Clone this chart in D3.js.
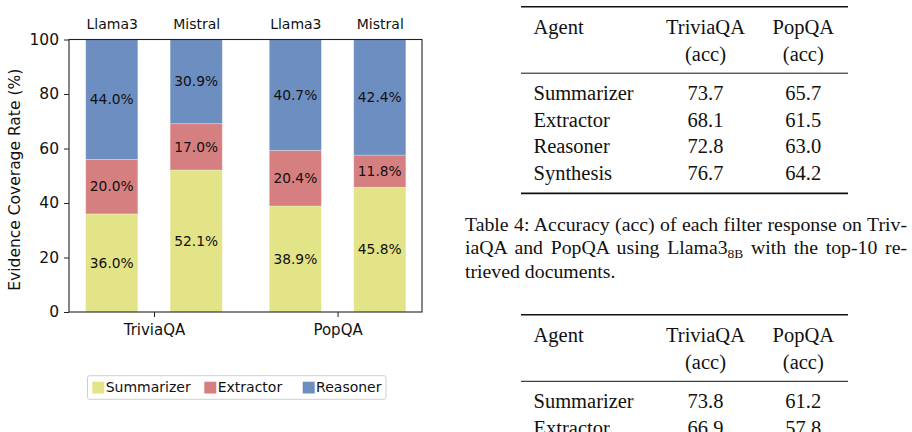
<!DOCTYPE html>
<html>
<head>
<meta charset="utf-8">
<script src="https://cdn.jsdelivr.net/npm/d3@7"></script>
<style>
  body { margin: 0; background: #fff; }
  svg { display: block; }
  .sans { font-family: "DejaVu Sans", sans-serif; }
  .serif { font-family: "Liberation Serif", "Times New Roman", serif; }
</style>
</head>
<body>
<svg id="fig" width="912" height="432"></svg>
<script>
// chart data
const groups = ["TriviaQA", "PopQA"];
const models = ["Llama3", "Mistral"];
const agents = ["Summarizer", "Extractor", "Reasoner"];
// bar order: TriviaQA-Llama3, TriviaQA-Mistral, PopQA-Llama3, PopQA-Mistral
const summarizer = [36.0, 52.1, 38.9, 45.8];
const extractor = [20.0, 17.0, 20.4, 11.8];
const reasoner = [44.0, 30.9, 40.7, 42.4];
const yTicks = [0, 20, 40, 60, 80, 100];

// table data
const colHeads = ["Agent", "TriviaQA", "PopQA"];
const colSub = ["", "(acc)", "(acc)"];
const t4Agents = ["Summarizer", "Extractor", "Reasoner", "Synthesis"];
const t4Trivia = [73.7, 68.1, 72.8, 76.7];
const t4Pop = [65.7, 61.5, 63.0, 64.2];
const t5Agents = ["Summarizer", "Extractor"];
const t5Trivia = [73.8, 66.9];
const t5Pop = [61.2, 57.8];
const captionLines = [
  "Table 4: Accuracy (acc) of each filter response on Triv-",
  ["iaQA and PopQA using Llama3", "8B", " with the top-10 re-"],
  "trieved documents."
];

const colors = {Summarizer: "#e3e388", Extractor: "#d67f80", Reasoner: "#6d8ec1"};

const svg = d3.select("#fig");

// ---------- bar chart ----------
const L = 69, R = 422, T = 39.5, B = 312;
const x = d3.scaleLinear().domain([-0.463, 1.46]).range([L, R]);
const y = d3.scaleLinear().domain([0, 100]).range([B, T]);
const offset = [-0.23, 0.23];
const barW = x(0.284) - x(0);

const rows = [];
groups.forEach((g, gi) => models.forEach((m, mi) => {
  const i = gi * models.length + mi;
  rows.push({group: g, model: m, pos: gi + offset[mi],
    Summarizer: summarizer[i], Extractor: extractor[i], Reasoner: reasoner[i]});
}));

const series = d3.stack().keys(agents)(rows);
const chart = svg.append("g").attr("class", "sans");

chart.selectAll(".layer")
  .data(series)
  .join("g")
  .attr("fill", d => colors[d.key])
  .selectAll("rect")
  .data(d => d)
  .join("rect")
  .attr("x", d => x(d.data.pos) - barW / 2)
  .attr("width", barW)
  .attr("y", d => y(d[1]))
  .attr("height", d => y(d[0]) - y(d[1]))
  .attr("stroke", "#ffffff")
  .attr("stroke-opacity", 0.35)
  .attr("stroke-width", 0.8);

chart.selectAll(".layerLabel")
  .data(series)
  .join("g")
  .selectAll("text")
  .data(d => d)
  .join("text")
  .attr("x", d => x(d.data.pos))
  .attr("y", d => y((d[0] + d[1]) / 2))
  .attr("dy", "0.35em")
  .attr("text-anchor", "middle")
  .attr("font-size", 13.8)
  .attr("fill", "#111")
  .text(d => (d[1] - d[0]).toFixed(1) + "%");

// axes
const yAxis = chart.append("g")
  .attr("transform", `translate(${L},0)`)
  .call(d3.axisLeft(y).tickValues(yTicks).tickSize(5).tickPadding(5).tickSizeOuter(0));
const xAxis = chart.append("g")
  .attr("transform", `translate(0,${B})`)
  .call(d3.axisBottom(x).tickValues([0, 1]).tickFormat(d => groups[d]).tickSize(5).tickPadding(7).tickSizeOuter(0));
const topAxis = chart.append("g")
  .attr("transform", `translate(0,${T})`)
  .call(d3.axisTop(x).tickValues(rows.map(r => r.pos)).tickFormat((d, i) => rows[i].model)
    .tickSize(0).tickPadding(10.5).tickSizeOuter(0));

[yAxis, xAxis, topAxis].forEach(a => {
  a.select(".domain").remove();
  a.attr("font-family", "DejaVu Sans, sans-serif");
  a.selectAll("line").attr("stroke", "#222").attr("stroke-width", 1);
  a.selectAll("text").attr("fill", "#111");
});
yAxis.attr("font-size", 15.5);
xAxis.attr("font-size", 15);
topAxis.attr("font-size", 14);

chart.append("rect")
  .attr("x", L).attr("y", T)
  .attr("width", R - L).attr("height", B - T)
  .attr("fill", "none").attr("stroke", "#222").attr("stroke-width", 1.1);

chart.append("text")
  .attr("transform", `translate(19.5,${(T + B) / 2 + 4}) rotate(-90)`)
  .attr("text-anchor", "middle")
  .attr("font-size", 15.5)
  .attr("fill", "#111")
  .text("Evidence Coverage Rate (%)");

// legend
const legendX = [92.3, 204.3, 302.7];
const legend = chart.append("g");
legend.append("rect")
  .attr("x", 87.5).attr("y", 375.7).attr("width", 298.5).attr("height", 23.6)
  .attr("rx", 2).attr("fill", "#fff").attr("stroke", "#cfcfcf").attr("stroke-width", 1);
const items = legend.selectAll(".item").data(agents).join("g")
  .attr("transform", (d, i) => `translate(${legendX[i]},381.7)`);
items.append("rect").attr("width", 12).attr("height", 11.8).attr("fill", d => colors[d]);
items.append("text").attr("x", 13.4).attr("y", 10.2)
  .attr("font-size", 14).attr("fill", "#111").text(d => d);

// ---------- tables ----------
const tx = {left: 521, right: 848, agent: 533.5, c1: 705.5, c2: 803.3};

function rule(g, yy, w) {
  g.append("line")
    .attr("x1", tx.left).attr("x2", tx.right).attr("y1", yy).attr("y2", yy)
    .attr("stroke", "#111").attr("stroke-width", w);
}

function drawTable(top, agentsArr, triviaArr, popArr, closed) {
  const g = svg.append("g").attr("class", "serif").attr("font-size", 20.5).attr("fill", "#111");
  rule(g, top, 1.6);
  const cols = [tx.agent, tx.c1, tx.c2];
  const anchors = ["start", "middle", "middle"];
  g.selectAll(".head").data(colHeads).join("text")
    .attr("x", (d, i) => cols[i]).attr("y", top + 27)
    .attr("text-anchor", (d, i) => anchors[i]).text(d => d);
  g.selectAll(".sub").data(colSub).join("text")
    .attr("x", (d, i) => cols[i]).attr("y", top + 54.5)
    .attr("text-anchor", (d, i) => anchors[i]).text(d => d);
  rule(g, top + 66.5, 1);
  const body = agentsArr.map((a, i) => [a, triviaArr[i].toFixed(1), popArr[i].toFixed(1)]);
  body.forEach((r, ri) => {
    g.selectAll(null).data(r).join("text")
      .attr("x", (d, i) => cols[i]).attr("y", top + 93.3 + ri * 26.7)
      .attr("text-anchor", (d, i) => anchors[i]).text(d => d);
  });
  if (closed) rule(g, top + 93.3 + (body.length - 1) * 26.7 + 13.3, 1.6);
  return g;
}

drawTable(6.7, t4Agents, t4Trivia, t4Pop, true);
drawTable(314.8, t5Agents, t5Trivia, t5Pop, false);

// caption, justified lines
const cap = svg.append("g").attr("class", "serif").attr("font-size", 19.8).attr("fill", "#111");
const capX = 465, capW = 442, capY = [230.7, 254.3, 278];
captionLines.forEach((ln, i) => {
  const t = cap.append("text").attr("x", capX).attr("y", capY[i]);
  if (Array.isArray(ln)) {
    t.append("tspan").text(ln[0]);
    t.append("tspan").attr("font-size", 13.5).attr("dy", 4).text(ln[1]);
    t.append("tspan").attr("dy", -4).text(ln[2]);
  } else {
    t.text(ln);
  }
  if (i < captionLines.length - 1) {
    const full = Array.isArray(ln) ? ln.join("") : ln;
    const spaces = (full.match(/ /g) || []).length;
    const w = t.node().getComputedTextLength();
    t.attr("word-spacing", (capW - w) / spaces);
  }
});
</script>
</body>
</html>
